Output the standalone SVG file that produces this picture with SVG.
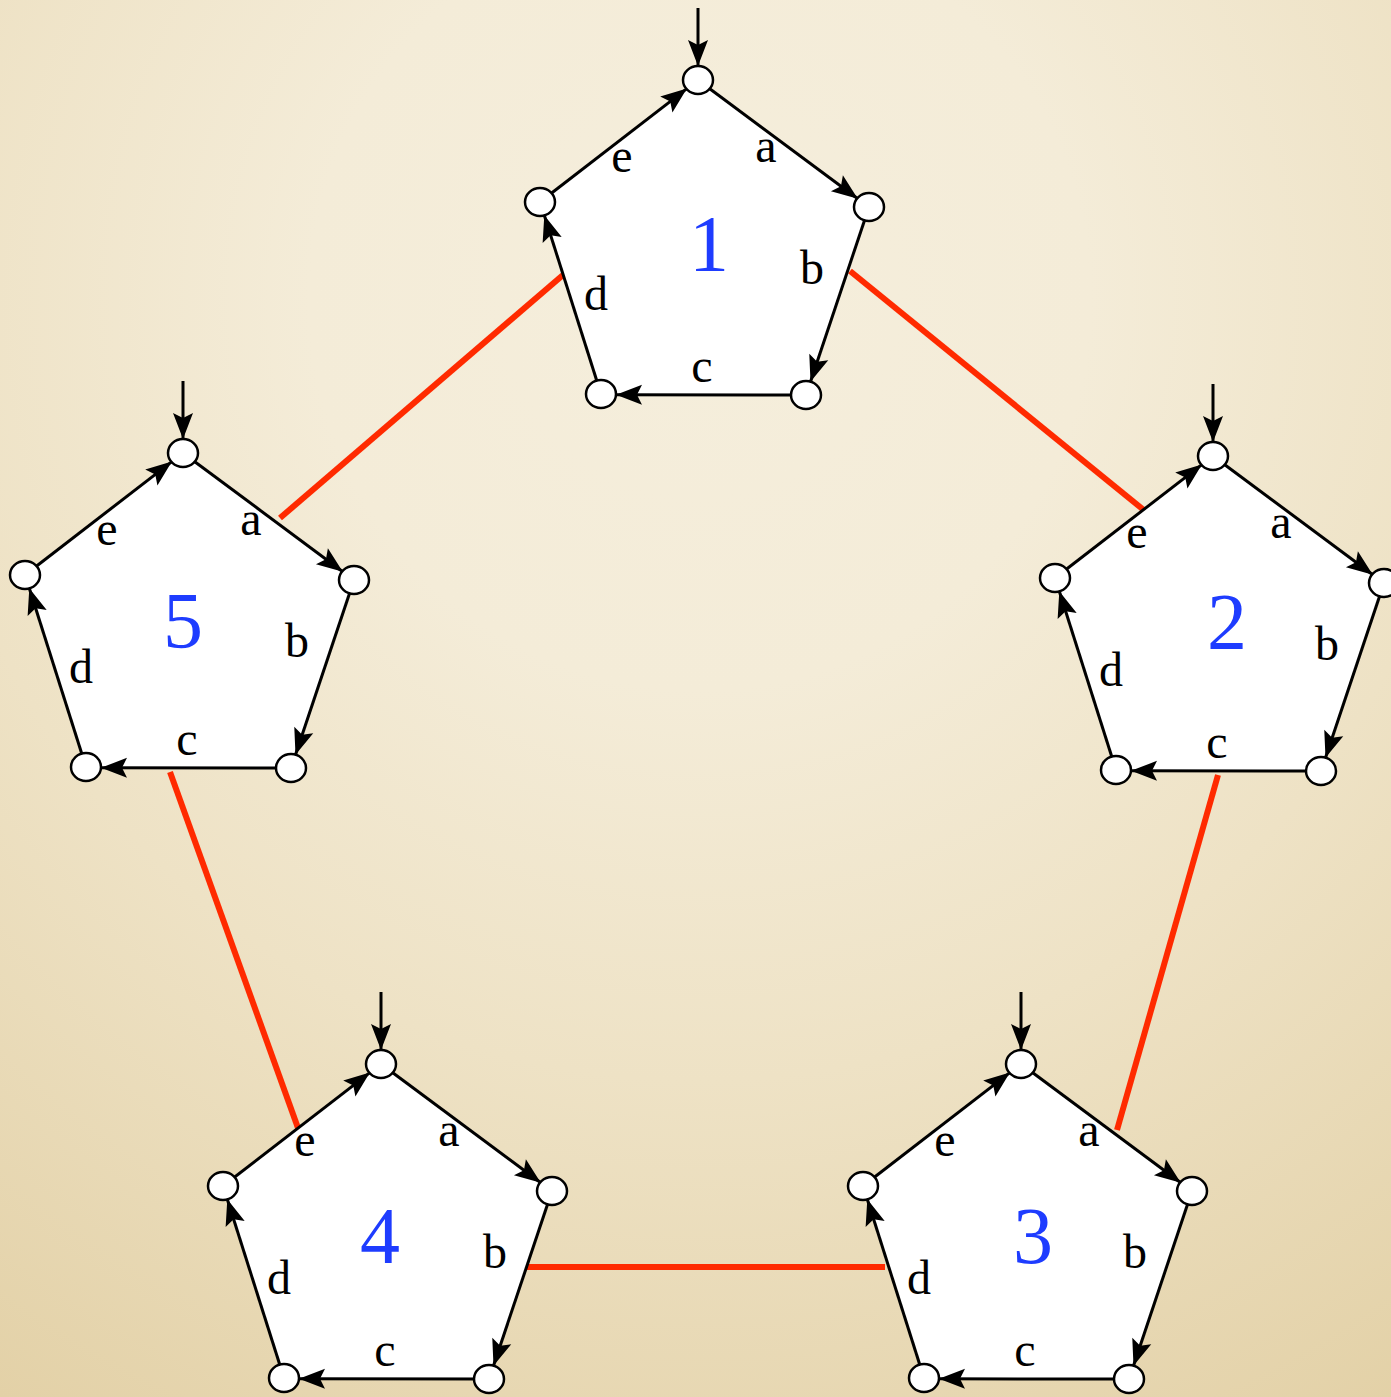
<svg xmlns="http://www.w3.org/2000/svg" xmlns:xlink="http://www.w3.org/1999/xlink" width="1391" height="1397" viewBox="0 0 1391 1397">
  <style>
    .bg-edge { stroke: #ff2a00; stroke-width: 6; fill: none; stroke-linecap: butt; }
    .face { fill: #ffffff; stroke: none; }
    .arc { stroke: #000000; stroke-width: 3; fill: none; marker-end: url(#head); }
    .state { fill: #ffffff; stroke: #000000; stroke-width: 2.5; }
    .lbl { font-family: "Liberation Serif", "DejaVu Serif", serif; font-size: 48px; fill: #000000; text-anchor: middle; }
    .num { font-family: "Liberation Serif", "DejaVu Serif", serif; font-size: 80px; fill: #1e3cff; text-anchor: middle; }
  </style>
  <defs>
    <radialGradient id="paper" cx="700" cy="300" r="1300" gradientUnits="userSpaceOnUse">
      <stop offset="0" stop-color="#f5eedc"/>
      <stop offset="0.3" stop-color="#f4ecd8"/>
      <stop offset="0.6" stop-color="#eee2c5"/>
      <stop offset="1" stop-color="#e3d1a7"/>
    </radialGradient>
    <marker id="head" markerUnits="userSpaceOnUse" orient="auto" refX="0" refY="0" markerWidth="40" markerHeight="40" overflow="visible">
      <path d="M0,0 L-26,-10 L-21,0 L-26,10 Z" fill="#000000"/>
    </marker>
    <!-- one five-state cycle, top state at the origin -->
    <g id="cycle">
      <polygon class="face" points="0,0 171,127 108,315 -97,314 -158,122"/>
      <path class="arc" d="M0,-72 L0,-14"/>
      <path class="arc" d="M0,0 L159.8,118.7"/>
      <path class="arc" d="M171,127 L112.5,301.7"/>
      <path class="arc" d="M108,315 L-82,314.8"/>
      <path class="arc" d="M-97,314 L-153.7,135.3"/>
      <path class="arc" d="M-158,122 L-11.1,8.6"/>
      <ellipse class="state" cx="0" cy="0" rx="15" ry="14"/>
      <ellipse class="state" cx="171" cy="127" rx="15" ry="14"/>
      <ellipse class="state" cx="108" cy="315" rx="15" ry="14"/>
      <ellipse class="state" cx="-97" cy="314" rx="15" ry="14"/>
      <ellipse class="state" cx="-158" cy="122" rx="15" ry="14"/>
    </g>
  </defs>

  <rect x="0" y="0" width="1391" height="1397" fill="url(#paper)"/>

  <!-- links between the cycles -->
  <g id="connectors">
    <line class="bg-edge" x1="563" y1="275" x2="280" y2="518"/>
    <line class="bg-edge" x1="850" y1="271" x2="1145" y2="511"/>
    <line class="bg-edge" x1="1218" y1="775" x2="1117" y2="1130"/>
    <line class="bg-edge" x1="527" y1="1267" x2="885" y2="1267"/>
    <line class="bg-edge" x1="170" y1="772" x2="298" y2="1128"/>
  </g>

  <g id="node1" transform="translate(698,80)">
    <use xlink:href="#cycle" href="#cycle"/>
    <text class="lbl" x="68" y="82">a</text>
    <text class="lbl" x="114" y="204">b</text>
    <text class="lbl" x="4" y="302">c</text>
    <text class="lbl" x="-102" y="230">d</text>
    <text class="lbl" x="-76" y="92">e</text>
    <text class="num" x="11" y="191">1</text>
  </g>

  <g id="node2" transform="translate(1213,456)">
    <use xlink:href="#cycle" href="#cycle"/>
    <text class="lbl" x="68" y="82">a</text>
    <text class="lbl" x="114" y="204">b</text>
    <text class="lbl" x="4" y="302">c</text>
    <text class="lbl" x="-102" y="230">d</text>
    <text class="lbl" x="-76" y="92">e</text>
    <text class="num" x="14" y="193">2</text>
  </g>

  <g id="node3" transform="translate(1021,1064)">
    <use xlink:href="#cycle" href="#cycle"/>
    <text class="lbl" x="68" y="82">a</text>
    <text class="lbl" x="114" y="204">b</text>
    <text class="lbl" x="4" y="302">c</text>
    <text class="lbl" x="-102" y="230">d</text>
    <text class="lbl" x="-76" y="92">e</text>
    <text class="num" x="12" y="199">3</text>
  </g>

  <g id="node4" transform="translate(381,1064)">
    <use xlink:href="#cycle" href="#cycle"/>
    <text class="lbl" x="68" y="82">a</text>
    <text class="lbl" x="114" y="204">b</text>
    <text class="lbl" x="4" y="302">c</text>
    <text class="lbl" x="-102" y="230">d</text>
    <text class="lbl" x="-76" y="92">e</text>
    <text class="num" x="-1" y="199">4</text>
  </g>

  <g id="node5" transform="translate(183,453)">
    <use xlink:href="#cycle" href="#cycle"/>
    <text class="lbl" x="68" y="82">a</text>
    <text class="lbl" x="114" y="204">b</text>
    <text class="lbl" x="4" y="302">c</text>
    <text class="lbl" x="-102" y="230">d</text>
    <text class="lbl" x="-76" y="92">e</text>
    <text class="num" x="0" y="195">5</text>
  </g>
</svg>
